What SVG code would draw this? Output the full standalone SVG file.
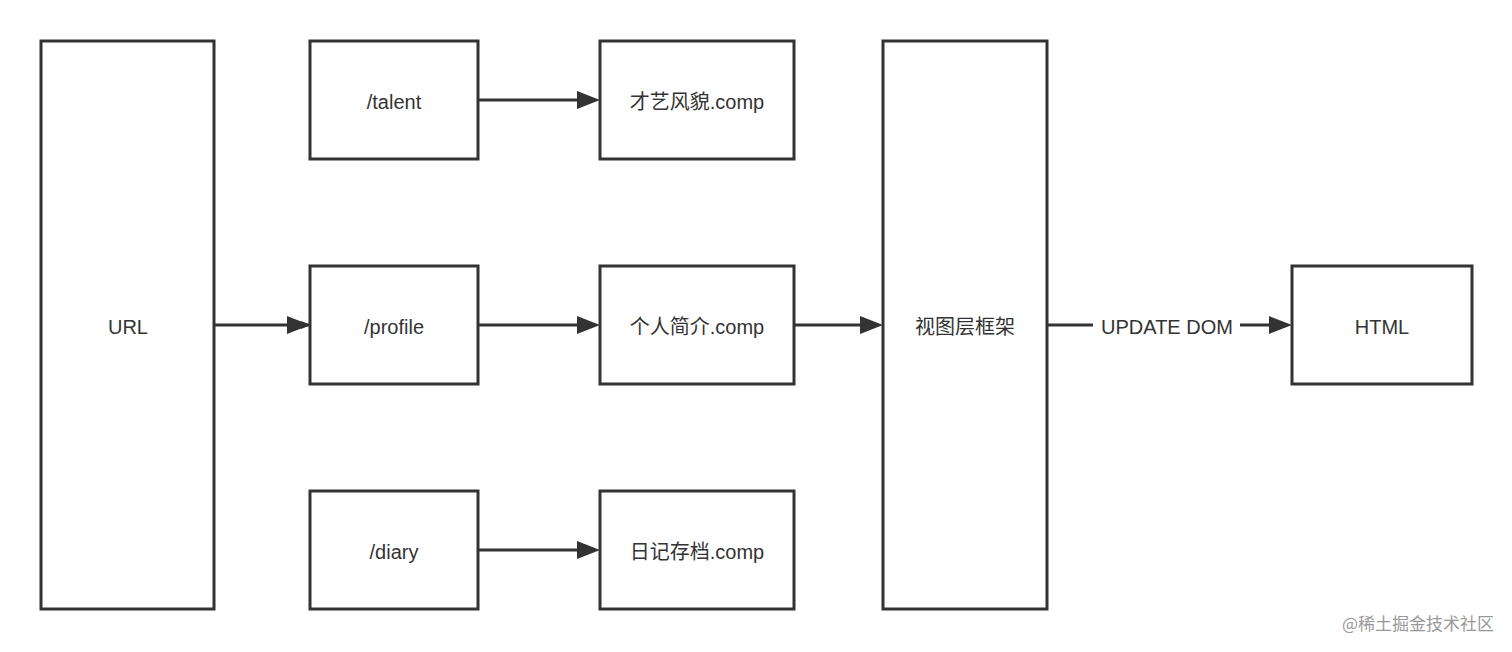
<svg xmlns="http://www.w3.org/2000/svg" width="1512" height="652" viewBox="0 0 1512 652">
<style>
.b{fill:#fff;stroke:#333;stroke-width:3}
.t{font-family:"Liberation Sans","Noto Sans CJK SC",sans-serif;font-size:20px;fill:#333;text-anchor:middle;dominant-baseline:central}
.c{stroke:#333;stroke-width:3;fill:none;marker-end:url(#a)}
</style>
<defs><marker id="a" markerWidth="10" markerHeight="8" refX="9" refY="4" orient="auto" markerUnits="userSpaceOnUse" viewBox="0 0 10 8"><path d="M0,0L10,4L0,8z" fill="#333"/></marker></defs>
<rect width="1512" height="652" fill="#fff"/>
<g id="connectors">
<path class="c" d="M214,325H310" marker-end="none"/><path d="M287,316L310,325L287,334z" fill="#333"/>
<path d="M478,100H578" stroke="#333" stroke-width="3"/><path d="M577,91L600,100L577,109z" fill="#333"/>
<path d="M478,325H578" stroke="#333" stroke-width="3"/><path d="M577,316L600,325L577,334z" fill="#333"/>
<path d="M478,550H578" stroke="#333" stroke-width="3"/><path d="M577,541L600,550L577,559z" fill="#333"/>
<path d="M794,325H862" stroke="#333" stroke-width="3"/><path d="M860,316L883,325L860,334z" fill="#333"/>
<path d="M1047,325H1093M1240,325H1272" stroke="#333" stroke-width="3"/><path d="M1269,316L1292,325L1269,334z" fill="#333"/>
<text class="t" x="1167" y="327">UPDATE DOM</text>
</g>
<g id="url"><rect class="b" x="41" y="41" width="173" height="568"/><text class="t" x="128" y="327">URL</text></g>
<g id="talent"><rect class="b" x="310" y="41" width="168" height="118"/><text class="t" x="394" y="102">/talent</text></g>
<g id="profile"><rect class="b" x="310" y="266" width="168" height="118"/><text class="t" x="394" y="327">/profile</text></g>
<g id="diary"><rect class="b" x="310" y="491" width="168" height="118"/><text class="t" x="394" y="552">/diary</text></g>
<g id="comp1"><rect class="b" x="600" y="41" width="194" height="118"/><text class="t" x="697" y="102">才艺风貌.comp</text></g>
<g id="comp2"><rect class="b" x="600" y="266" width="194" height="118"/><text class="t" x="697" y="327">个人简介.comp</text></g>
<g id="comp3"><rect class="b" x="600" y="491" width="194" height="118"/><text class="t" x="697" y="552">日记存档.comp</text></g>
<g id="view"><rect class="b" x="883" y="41" width="164" height="568"/><text class="t" x="965" y="327">视图层框架</text></g>
<g id="html"><rect class="b" x="1292" y="266" width="180" height="118"/><text class="t" x="1382" y="327">HTML</text></g>
<text x="1494" y="622" font-family="'Noto Sans CJK SC',sans-serif" font-size="17" fill="#999" text-anchor="end" dominant-baseline="central">@稀土掘金技术社区</text>
</svg>
